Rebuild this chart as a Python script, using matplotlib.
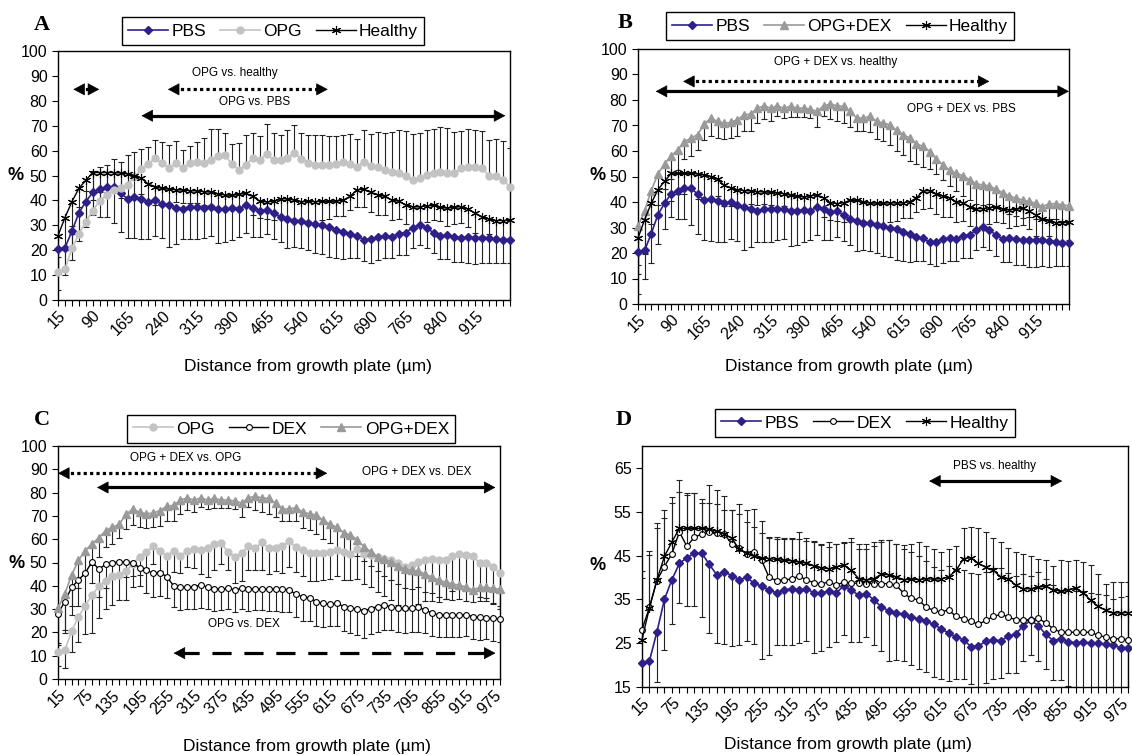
import numpy as np
import matplotlib
matplotlib.use('Agg')
import matplotlib.pyplot as plt
from matplotlib.lines import Line2D

# Arial-like text everywhere
plt.rcParams['font.family'] = ['Liberation Sans', 'DejaVu Sans']

# distance from growth plate (µm), one category every 15 µm
distance = list(range(15, 991, 15))

# mean percentages
pbs = [20.5, 21.0, 27.6, 35.0, 39.5, 43.2, 44.5, 45.5, 45.5, 43.0,
       40.6, 41.3, 40.4, 39.5, 40.0, 38.7, 38.0, 37.1, 36.5, 37.2,
       37.4, 37.1, 37.4, 36.5, 36.5, 36.9, 36.5, 38.1, 37.1, 35.9,
       36.3, 34.9, 33.3, 32.4, 31.9, 31.6, 31.0, 30.5, 30.0, 29.3,
       28.3, 27.3, 26.4, 25.8, 24.2, 24.4, 25.4, 25.8, 25.5, 26.6,
       27.1, 29.0, 30.2, 29.0, 27.0, 25.6, 26.0, 25.3, 25.1, 25.2,
       25.0, 25.0, 24.7, 24.5, 24.0, 24.0]
healthy = [25.8, 33.1, 39.5, 44.8, 48.1, 51.2, 51.2, 51.2, 51.2, 51.0,
           50.6, 50.0, 48.9, 46.5, 45.5, 44.8, 44.5, 44.3, 44.1, 43.9,
           43.8, 43.5, 43.3, 42.6, 42.2, 42.0, 42.4, 42.8, 41.6, 39.7,
           39.4, 39.7, 40.7, 40.6, 40.1, 39.5, 39.6, 39.5, 39.7, 39.6,
           39.7, 40.1, 41.6, 44.3, 44.5, 43.2, 42.3, 41.6, 40.1, 39.7,
           38.2, 37.4, 37.4, 37.8, 38.0, 37.2, 36.9, 37.2, 37.5, 36.5,
           34.8, 33.4, 32.5, 31.9, 31.9, 32.0]
opg = [11.4, 12.3, 20.7, 26.5, 31.5, 35.9, 39.9, 42.2, 44.2, 44.8,
       46.2, 49.5, 52.5, 54.6, 56.9, 54.9, 52.9, 54.9, 52.9, 54.9,
       55.6, 55.2, 56.2, 57.8, 58.2, 54.6, 52.2, 54.2, 56.9, 56.2,
       58.6, 56.2, 56.2, 56.9, 59.2, 56.5, 55.2, 54.2, 54.2, 54.2,
       54.5, 55.3, 54.6, 53.5, 55.6, 53.8, 53.3, 52.2, 51.5, 51.1,
       49.8, 48.2, 48.9, 50.2, 51.1, 51.5, 51.1, 50.9, 52.9, 53.5,
       53.3, 52.9, 49.8, 49.8, 48.2, 45.5]
opg_dex = [30.4, 36.6, 44.5, 51.0, 55.0, 58.1, 60.5, 63.7, 65.1, 66.4,
           70.7, 72.9, 71.6, 70.9, 71.2, 72.3, 74.2, 74.5, 76.8, 77.7,
           76.8, 77.7, 76.8, 77.5, 76.8, 76.8, 76.4, 75.5, 77.7, 78.4,
           77.7, 77.5, 75.5, 72.9, 72.9, 73.6, 71.6, 70.9, 70.3, 68.1,
           66.4, 65.1, 62.8, 61.8, 59.8, 56.8, 54.6, 52.4, 51.3, 50.3,
           48.7, 47.1, 46.7, 46.3, 45.0, 43.7, 42.4, 41.5, 40.8, 40.2,
           39.5, 38.2, 39.3, 39.3, 38.9, 38.5]
dex = [28.1, 33.2, 39.3, 42.5, 45.4, 50.4, 47.1, 49.2, 49.9, 50.3,
       50.2, 49.9, 47.7, 46.7, 45.3, 45.7, 43.9, 40.0, 39.3, 39.5,
       39.6, 40.4, 39.4, 38.8, 38.5, 39.0, 38.2, 39.0, 38.7, 38.7,
       38.6, 38.6, 38.6, 38.6, 38.2, 36.4, 35.2, 34.9, 33.2, 32.5,
       32.1, 32.6, 31.1, 30.6, 30.0, 29.3, 30.2, 31.1, 31.6, 31.0,
       30.3, 30.3, 30.3, 30.7, 29.6, 28.3, 27.5, 27.5, 27.5, 27.5,
       27.5, 26.8, 26.4, 26.0, 26.0, 25.8]

# one-sided error bar lengths (SD)
pbs_err = [16.5, 11.0, 11.5, 11.5, 10.2, 9.0, 11.0, 12.0, 14.5, 15.7,
           15.6, 16.6, 16.0, 15.0, 14.4, 14.0, 16.7, 14.7, 12.0, 12.7,
           12.9, 12.1, 11.8, 13.8, 13.2, 12.7, 11.3, 11.2, 11.9, 10.7,
           9.9, 10.3, 10.0, 11.5, 10.8, 10.7, 11.0, 11.5, 11.5, 12.0,
           11.5, 11.0, 9.5, 9.0, 8.5, 9.5, 9.5, 9.0, 8.5, 8.5,
           9.0, 8.0, 8.0, 8.0, 8.0, 9.0, 9.5, 10.0, 10.0, 10.5,
           10.5, 10.0, 10.0, 9.5, 9.0, 9.0]
healthy_err = [14.0, 13.0, 13.0, 10.7, 9.0, 11.0, 8.0, 8.0, 6.6, 10.0,
               9.4, 8.6, 6.5, 7.9, 7.2, 6.8, 5.7, 5.0, 5.2, 4.8,
               5.0, 5.3, 5.0, 5.5, 5.5, 5.0, 5.2, 5.0, 7.3, 6.9,
               7.0, 7.5, 7.8, 8.0, 7.5, 8.0, 8.0, 8.5, 7.5, 7.0,
               6.0, 6.5, 5.5, 7.0, 7.0, 8.0, 8.0, 7.5, 8.0, 7.0,
               7.5, 8.0, 7.5, 6.5, 6.0, 5.5, 7.0, 6.5, 6.5, 7.0,
               8.0, 7.5, 6.0, 7.0, 7.0, 7.0]
opg_err = [6.0, 7.6, 9.0, 10.7, 12.2, 16.0, 13.7, 12.2, 12.3, 10.7,
           12.1, 10.0, 8.0, 7.0, 7.5, 8.5, 9.5, 9.0, 7.5, 7.0,
           8.0, 10.0, 12.5, 11.0, 9.0, 8.0, 11.0, 12.0, 10.0, 9.5,
           12.0, 11.0, 10.0, 11.5, 11.0, 10.5, 11.0, 12.0, 12.0, 11.5,
           11.5, 11.0, 12.0, 11.0, 12.5, 13.0, 14.0, 15.0, 16.0, 17.0,
           18.0, 18.5, 18.0, 18.0, 17.5, 18.0, 18.0, 16.5, 15.0, 15.0,
           15.0, 15.0, 14.5, 15.0, 15.5, 15.5]
opg_dex_err = [15.0, 17.0, 13.0, 12.0, 10.0, 9.0, 8.0, 7.0, 7.0, 6.0,
               6.5, 7.0, 6.5, 6.0, 6.0, 6.5, 6.5, 6.5, 6.0, 5.0,
               5.0, 4.0, 4.0, 4.0, 3.5, 3.5, 3.5, 6.0, 4.0, 6.0,
               6.0, 6.5, 6.0, 5.0, 5.0, 6.0, 7.0, 7.0, 8.0, 8.0,
               8.0, 9.0, 8.0, 8.0, 7.0, 6.0, 6.0, 6.0, 7.0, 8.0,
               8.0, 8.0, 8.0, 7.0, 7.5, 7.0, 7.0, 7.0, 7.0, 6.0,
               6.0, 5.0, 6.0, 6.0, 6.5, 7.0]
dex_err = [13.3, 12.0, 12.0, 11.0, 13.0, 9.0, 11.7, 10.0, 7.0, 6.6,
           6.5, 5.5, 7.6, 10.0, 10.0, 10.0, 9.0, 9.0, 9.5, 9.5,
           9.5, 10.0, 9.5, 9.5, 9.0, 9.0, 9.5, 9.0, 9.5, 9.0,
           9.0, 9.5, 9.5, 10.0, 9.5, 10.0, 10.5, 10.0, 10.5, 10.0,
           9.5, 10.0, 10.5, 11.0, 11.0, 11.5, 11.0, 11.0, 10.5, 10.0,
           10.0, 10.5, 10.0, 10.5, 10.0, 10.0, 9.5, 9.5, 9.5, 9.5,
           9.0, 9.5, 9.5, 9.0, 9.5, 10.0]

NAVY = '#2d2189'
LIGHT = '#c3c3c3'
MID = '#9a9a9a'

SERIES = {
    'PBS': (pbs, pbs_err, dict(color=NAVY, marker='D', ms=4.2, mfc=NAVY, mec=NAVY, lw=1.2)),
    'OPG': (opg, opg_err, dict(color=LIGHT, marker='o', ms=5, mfc=LIGHT, mec=LIGHT, lw=1.2)),
    'OPG+DEX': (opg_dex, opg_dex_err, dict(color=MID, marker='^', ms=5.5, mfc=MID, mec=MID, lw=1.2)),
    'DEX': (dex, dex_err, dict(color='black', marker='o', ms=4.2, mfc='white', mec='black', mew=0.8, lw=1.0)),
    'Healthy': (healthy, healthy_err, dict(color='black', marker=(6, 2, 0), ms=6.5, mec='black', mew=0.8, lw=1.0)),
}

W, H = 1132, 755


def fig_rect(left, top, right, bottom):
    # pixel box -> figure fraction rect
    return [left / W, 1 - bottom / H, (right - left) / W, (bottom - top) / H]


def draw_errbars(ax, y, err, direction):
    x = np.array(distance)
    y = np.array(y)
    end = y + direction * np.array(err)
    ax.vlines(x, y, end, colors='#222222', lw=0.8, zorder=1)
    ax.plot(x, end, ls='none', marker='_', ms=4.5, mew=0.8, color='#222222', zorder=1)


def span_arrow(ax, x0, x1, y, ls):
    # shaft in the wanted line style, solid triangular heads at both ends
    xmin, xmax = ax.get_xlim()
    per_px = (xmax - xmin) / (ax.get_position().width * W)
    head = 10 * per_px
    ax.plot([x0 + head * 0.6, x1 - head * 0.6], [y, y], color='black', lw=2.3, ls=ls,
            solid_capstyle='butt', dash_capstyle='butt', clip_on=False, zorder=6)
    for tip, tail in ((x0, x0 + head), (x1, x1 - head)):
        ax.annotate('', xy=(tip, y), xytext=(tail, y), annotation_clip=False,
                    arrowprops=dict(arrowstyle='-|>,head_length=0.75,head_width=0.4',
                                    color='black', lw=0.5, mutation_scale=10,
                                    shrinkA=0, shrinkB=0))


def draw_panel(fig, rect, names, directions, ylim, yticks, label_every,
               letter, letter_xy, legend_xy, pct_xy, xlabel_xy):
    ax = fig.add_axes(rect)
    for name, d in zip(names, directions):
        vals, err, style = SERIES[name]
        draw_errbars(ax, vals, err, d)
    for z, name in enumerate(names):
        vals, err, style = SERIES[name]
        ax.plot(distance, vals, zorder=3 + z, clip_on=False, **style)

    ax.set_xlim(distance[0], distance[-1])
    ax.set_ylim(*ylim)
    ax.set_yticks(yticks)
    ax.set_xticks(distance)
    labels = [str(d) if (i % label_every == 0 and i <= 64) else '' for i, d in enumerate(distance)]
    ax.set_xticklabels(labels, rotation=45, ha='right', rotation_mode='anchor')
    ax.tick_params(axis='both', direction='out', length=4, width=0.8, labelsize=11.5)
    ax.tick_params(axis='x', pad=2)
    for sp in ax.spines.values():
        sp.set_linewidth(1.0)

    handles = [Line2D([], [], **SERIES[n][2]) for n in names]
    leg = fig.legend(handles, names, loc='center',
                     bbox_to_anchor=(legend_xy[0] / W, 1 - legend_xy[1] / H),
                     ncol=3, fancybox=False, edgecolor='black', framealpha=1,
                     fontsize=12.5, handlelength=2.3, columnspacing=0.8,
                     handletextpad=0.2, borderpad=0.35, borderaxespad=0)
    leg.get_frame().set_linewidth(1.0)

    fig.text(letter_xy[0] / W, 1 - letter_xy[1] / H, letter, fontfamily='Liberation Serif',
             fontweight='bold', fontsize=16, ha='center', va='center')
    fig.text(pct_xy[0] / W, 1 - pct_xy[1] / H, '%', fontweight='bold', fontsize=13,
             ha='center', va='center')
    fig.text(xlabel_xy[0] / W, 1 - xlabel_xy[1] / H, 'Distance from growth plate (µm)',
             fontsize=12.5, ha='center', va='center')
    return ax


fig = plt.figure(figsize=(W / 100, H / 100), dpi=100)

DOTTED = (0, (1, 1))
DASHED = (0, (6, 4))
TXT = 8.5

# Panel A
ax = draw_panel(fig, fig_rect(58, 51, 510, 300), ['PBS', 'OPG', 'Healthy'], [-1, 1, -1],
                (0, 100), range(0, 101, 10), 5, 'A', (42, 25), (273, 31), (16, 175), (308, 367))
span_arrow(ax, 48, 104, 84.6, DOTTED)
span_arrow(ax, 252, 597, 84.6, DOTTED)
ax.text(396, 91, 'OPG vs. healthy', fontsize=TXT, ha='center', va='center')
span_arrow(ax, 195, 980, 74, '-')
ax.text(440, 79.5, 'OPG vs. PBS', fontsize=TXT, ha='center', va='center')

# Panel B
ax = draw_panel(fig, fig_rect(638, 49, 1069, 304), ['PBS', 'OPG+DEX', 'Healthy'], [-1, -1, -1],
                (0, 100), range(0, 101, 10), 5, 'B', (625, 23), (840, 26), (598, 176), (849, 367))
ax.text(462, 94.8, 'OPG + DEX vs. healthy', fontsize=TXT, ha='center', va='center')
span_arrow(ax, 117, 810, 87.3, DOTTED)
span_arrow(ax, 55, 990, 83.4, '-')
ax.text(747, 76.4, 'OPG + DEX vs. PBS', fontsize=TXT, ha='center', va='center')

# Panel C
ax = draw_panel(fig, fig_rect(58, 446, 500, 679), ['OPG', 'DEX', 'OPG+DEX'], [-1, -1, -1],
                (0, 100), range(0, 101, 10), 4, 'C', (42, 420), (291, 429), (17, 563), (307, 747))
ax.text(296, 95, 'OPG + DEX vs. OPG', fontsize=TXT, ha='center', va='center')
span_arrow(ax, 15, 609, 88.3, DOTTED)
ax.text(807, 88.9, 'OPG + DEX vs. DEX', fontsize=TXT, ha='center', va='center')
span_arrow(ax, 101, 980, 82.2, '-')
ax.text(425, 23.5, 'OPG vs. DEX', fontsize=TXT, ha='center', va='center')
span_arrow(ax, 270, 980, 11.1, DASHED)

# Panel D (its right edge runs to the page edge)
ax = draw_panel(fig, fig_rect(642, 446, 1128, 687), ['PBS', 'DEX', 'Healthy'], [-1, 1, 1],
                (15, 70), range(15, 66, 10), 4, 'D', (624, 420), (865, 423), (598, 565), (848, 745))
ax.text(723, 65.5, 'PBS vs. healthy', fontsize=TXT, ha='center', va='center')
span_arrow(ax, 591, 858, 62, '-')

fig.savefig('out.png', dpi=100)
